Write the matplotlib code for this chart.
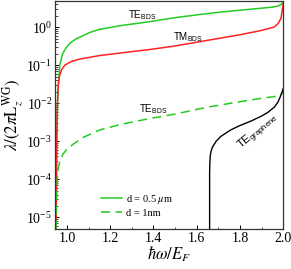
import numpy as np
import matplotlib
matplotlib.use("Agg")
from matplotlib import pyplot as plt
from matplotlib.ticker import LogLocator, MultipleLocator, NullFormatter

plt.rcParams['font.family'] = ['Liberation Serif', 'DejaVu Serif']
plt.rcParams['mathtext.fontset'] = 'stix'

# TE_BDS, d = 0.5 um (solid green)
te_thick_x = [0.950, 0.953, 0.957, 0.962, 0.967, 0.980, 0.995, 1.014, 1.040, 1.074, 1.110,
              1.153, 1.250, 1.386, 1.493, 1.600, 1.700, 1.805, 1.900, 1.950, 1.977, 1.990, 2.000]
te_thick_y = [5e-6, 1e-3, 1e-2, 0.04, 0.1, 0.2, 0.28, 0.38, 0.48, 0.6, 0.74,
              0.88, 1.1, 1.4, 1.75, 2.1, 2.45, 2.8, 3.15, 3.35, 3.6, 3.9, 4.6]

# TM_BDS, d = 0.5 um (solid red)
tm_thick_x = [0.950, 0.953, 0.956, 0.960, 0.965, 0.975, 0.990, 1.020, 1.060, 1.153, 1.250,
              1.386, 1.500, 1.650, 1.800, 1.900, 1.958, 1.977, 1.990, 2.000]
tm_thick_y = [5e-6, 1e-3, 1e-2, 0.03, 0.05, 0.075, 0.1, 0.125, 0.145, 0.18, 0.21,
              0.26, 0.32, 0.45, 0.63, 0.82, 1.0, 1.25, 1.7, 4.0]

# TE_BDS, d = 1 nm (dashed green)
te_thin_x = [0.950, 0.952, 0.955, 0.960, 0.967, 0.980, 1.000, 1.030, 1.074, 1.153, 1.250,
             1.386, 1.500, 1.650, 1.800, 1.900, 1.977, 2.000]
te_thin_y = [5e-6, 3e-5, 1e-4, 2e-4, 2.8e-4, 4.5e-4, 6.2e-4, 8.5e-4, 1.26e-3, 2.0e-3, 2.8e-3,
             4.0e-3, 5.2e-3, 7.9e-3, 0.011, 0.0135, 0.0155, 0.019]

# TE graphene (black)
te_gr_x = [1.660, 1.660, 1.661, 1.663, 1.667, 1.674, 1.690, 1.712, 1.758, 1.800, 1.851, 1.900,
           1.930, 1.960, 1.977, 1.991, 2.000]
te_gr_y = [5e-6, 1.5e-4, 2.8e-4, 4.2e-4, 5.6e-4, 7.2e-4, 1.0e-3, 1.35e-3, 2.0e-3, 2.6e-3, 3.4e-3,
           4.6e-3, 5.8e-3, 8e-3, 0.011, 0.017, 0.024]

fig = plt.figure(figsize=(2.91, 2.69), dpi=100)
ax = fig.add_axes([0.189, 0.149, 0.784, 0.849])

ax.plot(te_thick_x, te_thick_y, color='#22cc22', lw=1.1, label=r'd = 0.5 $\mu$m')
ax.plot(tm_thick_x, tm_thick_y, color='#ff2222', lw=1.1)
ax.plot(te_thin_x, te_thin_y, color='#22cc22', lw=1.1, ls=(0, (6, 3.5)), label='d = 1nm')
ax.plot(te_gr_x, te_gr_y, color='black', lw=1.0)

ax.set_yscale('log')
ax.set_xlim(0.945, 2.0)
ax.set_ylim(5e-6, 5)

ax.xaxis.set_major_locator(MultipleLocator(0.2))
ax.xaxis.set_minor_locator(MultipleLocator(0.1))
ax.yaxis.set_major_locator(LogLocator(base=10, numticks=10))
ax.yaxis.set_minor_locator(LogLocator(base=10, subs=np.arange(2, 10), numticks=10))
ax.yaxis.set_minor_formatter(NullFormatter())
ax.tick_params(which='both', direction='in', labelsize=10, pad=2)
ax.tick_params(which='major', length=3, width=0.7)
ax.tick_params(which='minor', length=1.8, width=0.5)
for s in ax.spines.values():
    s.set_linewidth(0.9)
    s.set_color('#333333')

ax.set_xlabel(r'$\hbar\omega/E_F$', fontsize=12, labelpad=0)
ax.set_ylabel(r'$\lambda/(2\pi\mathrm{L}_z^{\mathrm{WG}})$', fontsize=12, labelpad=1)

lab = dict(family='Liberation Sans', fontsize=7)
ax.text(1.35, 2.1, r'TE$_{\mathregular{BDS}}$', ha='center', va='center', **lab)
ax.text(1.558, 0.55, r'TM$_{\mathregular{BDS}}$', ha='center', va='center', **lab)
ax.text(1.40, 6.9e-3, r'TE$_{\mathregular{BDS}}$', ha='center', va='center', **lab)
ax.text(1.885, 1.75e-3, r'TE$_{\mathregular{graphene}}$', ha='center', va='center',
        rotation=40, family='Liberation Sans', fontsize=8)

ax.legend(loc='lower right', bbox_to_anchor=(0.545, 0.02), frameon=False, fontsize=7.5,
          handlelength=2.0, handletextpad=0.4, labelspacing=0.3, borderaxespad=0.2)

fig.savefig('out.png', dpi=100)
